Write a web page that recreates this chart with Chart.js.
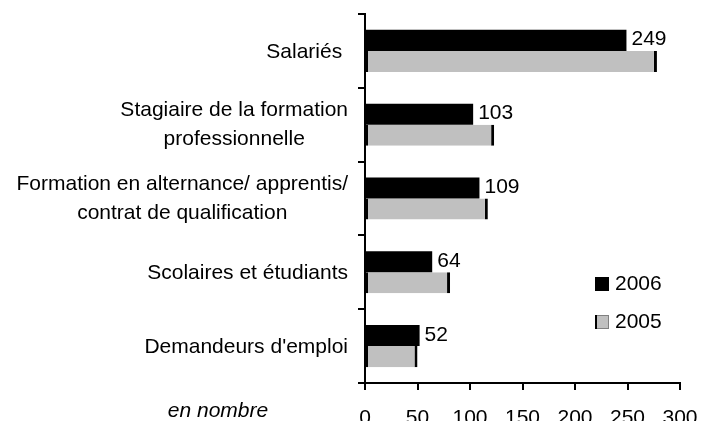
<!DOCTYPE html>
<html>
<head>
  <title>Publics accueillis</title>
  <script src="https://cdn.jsdelivr.net/npm/chart.js"></script>
  <style>
    body { margin: 0; background: #fff; }
  </style>
</head>
<body>
  <canvas id="publicsChart" width="701" height="421"></canvas>

  <script>
    // categories, one entry per line of the label
    const categories = [
      ['Salariés '],
      ['Stagiaire de la formation', 'professionnelle'],
      ['Formation en alternance/ apprentis/', 'contrat de qualification'],
      ['Scolaires et étudiants'],
      ["Demandeurs d'emploi"]
    ];
    const years = ['2006', '2005'];
    const values2006 = [249, 103, 109, 64, 52];
    const values2005 = [278, 123, 117, 81, 50];
    const xTicks = [0, 50, 100, 150, 200, 250, 300];
    const unitLabel = 'en nombre';

    const FONT = '"Liberation Sans", Arial, sans-serif';

    // category labels: each block right aligned, lines centred inside the block
    const categoryLabels = {
      id: 'categoryLabels',
      afterDraw(chart) {
        const ctx = chart.ctx;
        const yScale = chart.scales.y;
        const right = yScale.right - 17;
        ctx.save();
        ctx.font = '21px ' + FONT;
        ctx.fillStyle = '#000';
        ctx.textAlign = 'center';
        ctx.textBaseline = 'alphabetic';
        categories.forEach((lines, i) => {
          const cy = yScale.getPixelForValue(i);
          const blockWidth = Math.max(...lines.map(l => ctx.measureText(l).width));
          const cx = right - blockWidth / 2;
          const n = lines.length;
          lines.forEach((line, j) => {
            const y = cy + 7 + (j - (n - 1) / 2) * 29 - (n - 1) * 1.5;
            ctx.fillText(line, cx, y);
          });
        });

        // unit note under the category labels
        ctx.font = 'italic 21px ' + FONT;
        ctx.fillText(unitLabel, yScale.right - 147, chart.height - 4);
        ctx.restore();
      }
    };

    // value labels at the end of the 2006 bars
    const valueLabels = {
      id: 'valueLabels',
      afterDatasetsDraw(chart) {
        const ctx = chart.ctx;
        const meta = chart.getDatasetMeta(0);
        ctx.save();
        ctx.font = '21px ' + FONT;
        ctx.fillStyle = '#000';
        ctx.textAlign = 'left';
        ctx.textBaseline = 'alphabetic';
        meta.data.forEach((bar, i) => {
          ctx.fillText(String(values2006[i]), bar.x + 5, bar.y + 5);
        });
        ctx.restore();
      }
    };

    // legend inside the plot area, lower right
    const innerLegend = {
      id: 'innerLegend',
      afterDraw(chart) {
        const ctx = chart.ctx;
        const area = chart.chartArea;
        const x = area.left + 230;
        let y = area.top + 263;
        ctx.save();
        ctx.font = '21px ' + FONT;
        ctx.textBaseline = 'middle';
        ctx.textAlign = 'left';
        chart.data.datasets.forEach((ds, i) => {
          ctx.fillStyle = ds.backgroundColor;
          ctx.fillRect(x, y, 14, 14);
          if (i === 1) {
            ctx.strokeStyle = '#808080';
            ctx.lineWidth = 1;
            ctx.strokeRect(x + 0.5, y + 0.5, 13, 13);
            ctx.fillStyle = '#000';
            ctx.fillRect(x, y, 2, 14);
          }
          ctx.fillStyle = '#000';
          ctx.fillText(ds.label, x + 20, y + 7);
          y += 38;
        });
        ctx.restore();
      }
    };

    const ctx = document.getElementById('publicsChart').getContext('2d');
    new Chart(ctx, {
      type: 'bar',
      data: {
        labels: categories.map(c => c.join(' ')),
        datasets: [{
          label: years[0],
          data: values2006,
          backgroundColor: '#000000',
          borderWidth: 0,
          categoryPercentage: 0.57,
          barPercentage: 1.0
        }, {
          label: years[1],
          data: values2005,
          backgroundColor: '#c0c0c0',
          borderColor: '#000000',
          borderWidth: { left: 2, right: 3, top: 0, bottom: 0 },
          borderSkipped: false,
          categoryPercentage: 0.57,
          barPercentage: 1.0
        }]
      },
      options: {
        indexAxis: 'y',
        responsive: false,
        animation: false,
        layout: { padding: { top: 14, right: 21, left: 0, bottom: 0 } },
        plugins: {
          legend: { display: false },
          tooltip: { enabled: false }
        },
        scales: {
          x: {
            min: 0,
            max: 300,
            afterBuildTicks: scale => {
              scale.ticks = xTicks.map(v => ({ value: v }));
            },
            afterFit: scale => {
              // fixed axis band, no extra room for the end labels
              scale.height = 38;
              scale.paddingLeft = 0;
              scale.paddingRight = 0;
            },
            ticks: {
              color: '#000',
              font: { family: FONT, size: 21 },
              padding: 16,
              maxRotation: 0,
              autoSkip: false
            },
            grid: {
              drawOnChartArea: false,
              drawTicks: true,
              tickLength: 7,
              color: '#000',
              lineWidth: 2
            },
            border: { color: '#000', width: 2 }
          },
          y: {
            afterFit: scale => { scale.width = 365; },
            ticks: { display: false },
            grid: {
              drawOnChartArea: false,
              drawTicks: true,
              tickLength: 7,
              color: '#000',
              lineWidth: 2
            },
            border: { color: '#000', width: 2 }
          }
        }
      },
      plugins: [categoryLabels, valueLabels, innerLegend]
    });
  </script>
</body>
</html>
